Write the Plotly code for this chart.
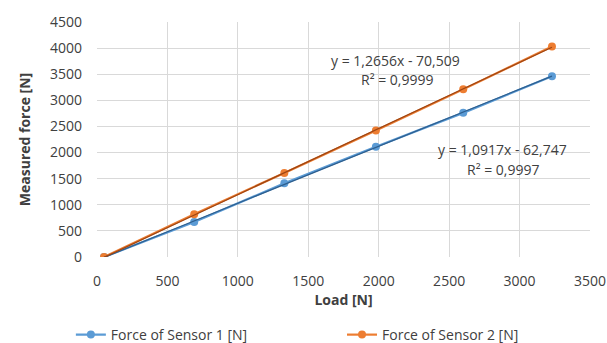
import plotly.graph_objects as go

load = [50, 690, 1330, 1980, 2600, 3230]
sensor1 = [0, 670, 1410, 2110, 2760, 3460]
sensor2 = [0, 820, 1610, 2420, 3210, 4030]
fit1 = (1.0917, -62.747)
fit2 = (1.2656, -70.509)
eq1 = ["y = 1,0917x - 62,747", "R² = 0,9997"]
eq2 = ["y = 1,2656x - 70,509", "R² = 0,9999"]

FONT = "Open Sans"
TXT = "#404040"

fig = go.Figure()
fig.add_trace(go.Scatter(x=load, y=sensor1, mode="lines+markers", name="Force of Sensor 1 [N]",
                         line=dict(color="#5B9BD5", width=2.2), marker=dict(size=8, color="#5B9BD5"),
                         legend="legend"))
fig.add_trace(go.Scatter(x=load, y=sensor2, mode="lines+markers", name="Force of Sensor 2 [N]",
                         line=dict(color="#ED7D31", width=2.2), marker=dict(size=8, color="#ED7D31"),
                         legend="legend2"))
xs = [min(load), max(load)]
fig.add_trace(go.Scatter(x=xs, y=[fit1[0]*v + fit1[1] for v in xs], mode="lines", showlegend=False,
                         line=dict(color="#2E5F8F", width=1.2), hoverinfo="skip"))
fig.add_trace(go.Scatter(x=xs, y=[fit2[0]*v + fit2[1] for v in xs], mode="lines", showlegend=False,
                         line=dict(color="#9E4512", width=1.2), hoverinfo="skip"))

def ann(x, y, text):
    fig.add_annotation(x=x, y=y, xref="x", yref="y", text=text, showarrow=False,
                       font=dict(family=FONT, size=14, color=TXT), xanchor="center", yanchor="middle")

ann(2120, 3760, eq2[0])
ann(2130, 3390, eq2[1])
ann(2880, 2050, eq1[0])
ann(2880, 1670, eq1[1])

leg_common = dict(orientation="h", yanchor="middle", y=-0.332, xanchor="left",
                  font=dict(family=FONT, size=14, color=TXT), itemwidth=30, bgcolor="rgba(0,0,0,0)")

fig.update_layout(
    width=607, height=343, margin=dict(l=97, r=17, t=22, b=86, autoexpand=False),
    paper_bgcolor="white", plot_bgcolor="white",
    font=dict(family=FONT, size=14, color=TXT),
    showlegend=True,
    legend=dict(x=-0.053, **leg_common),
    legend2=dict(x=0.497, **leg_common),
    xaxis=dict(range=[0, 3500], tickvals=list(range(0, 3501, 500)), showgrid=True, gridcolor="#D9D9D9",
               gridwidth=1, zeroline=False, showline=False, ticks="", ticklabelstandoff=14,
               title=dict(text="<b>Load [N]</b>", font=dict(family=FONT, size=14, color=TXT), standoff=5)),
    yaxis=dict(range=[0, 4500], tickvals=list(range(0, 4501, 500)), showgrid=True, gridcolor="#D9D9D9",
               gridwidth=1, zeroline=False, showline=False, ticks="", ticklabelstandoff=14,
               title=dict(text="<b>Measured force [N]</b>", font=dict(family=FONT, size=14, color=TXT), standoff=16)),
)
fig.write_html("out.html")
